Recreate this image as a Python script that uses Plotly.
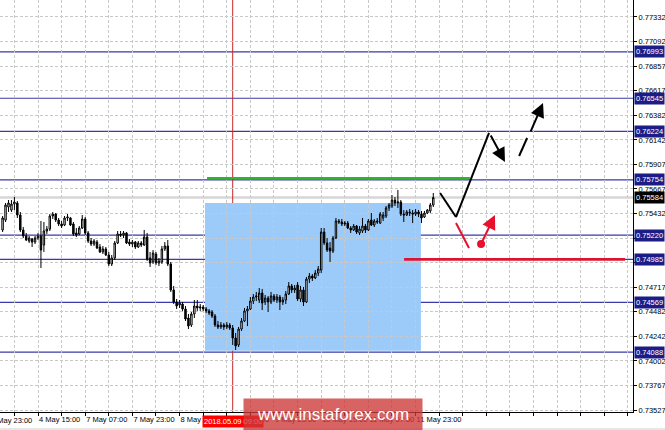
import pandas as pd
import plotly.graph_objects as go

# ---------------- data (AUD/USD, H1) ----------------
open_ = [0.75270, 0.75366, 0.75492, 0.75463, 0.75521, 0.75531, 0.75415, 0.75270, 0.75212, 0.75163,
         0.75182, 0.75153, 0.75192, 0.75212, 0.75124, 0.75260, 0.75279, 0.75405, 0.75424, 0.75366,
         0.75328, 0.75318, 0.75386, 0.75386, 0.75328, 0.75241, 0.75231, 0.75289, 0.75376, 0.75241,
         0.75163, 0.75134, 0.75153, 0.75105, 0.75057, 0.75086, 0.75028, 0.74941, 0.74999, 0.75144,
         0.75231, 0.75221, 0.75241, 0.75153, 0.75134, 0.75153, 0.75105, 0.75144, 0.75124, 0.75202,
         0.74999, 0.74960, 0.75037, 0.74950, 0.74960, 0.75086, 0.75115, 0.74941, 0.74689, 0.74573,
         0.74544, 0.74553, 0.74505, 0.74418, 0.74350, 0.74457, 0.74534, 0.74515, 0.74524, 0.74505,
         0.74486, 0.74476, 0.74437, 0.74350, 0.74331, 0.74350, 0.74331, 0.74350, 0.74321, 0.74224,
         0.74157, 0.74311, 0.74389, 0.74486, 0.74505, 0.74582, 0.74621, 0.74592, 0.74660, 0.74573,
         0.74611, 0.74573, 0.74631, 0.74592, 0.74621, 0.74573, 0.74592, 0.74650, 0.74728, 0.74689,
         0.74737, 0.74602, 0.74689, 0.74573, 0.74795, 0.74824, 0.74805, 0.74853, 0.74882, 0.75250,
         0.75144, 0.75095, 0.75066, 0.75192, 0.75357, 0.75347, 0.75328, 0.75337, 0.75289, 0.75270,
         0.75308, 0.75241, 0.75260, 0.75308, 0.75270, 0.75366, 0.75318, 0.75357, 0.75337, 0.75386,
         0.75405, 0.75483, 0.75502, 0.75560, 0.75531, 0.75541, 0.75424, 0.75415, 0.75444, 0.75434,
         0.75424, 0.75444, 0.75424, 0.75395, 0.75434, 0.75454, 0.75512]
high = [0.75405, 0.75531, 0.75560, 0.75560, 0.75589, 0.75550, 0.75444, 0.75299, 0.75241, 0.75212,
        0.75192, 0.75212, 0.75241, 0.75357, 0.75347, 0.75308, 0.75424, 0.75444, 0.75434, 0.75386,
        0.75357, 0.75405, 0.75424, 0.75395, 0.75347, 0.75289, 0.75308, 0.75415, 0.75395, 0.75260,
        0.75192, 0.75182, 0.75173, 0.75134, 0.75115, 0.75105, 0.75057, 0.75028, 0.75163, 0.75260,
        0.75260, 0.75260, 0.75250, 0.75182, 0.75173, 0.75163, 0.75163, 0.75163, 0.75270, 0.75241,
        0.75057, 0.75076, 0.75057, 0.74999, 0.75115, 0.75153, 0.75173, 0.74960, 0.74728, 0.74602,
        0.74592, 0.74573, 0.74534, 0.74457, 0.74476, 0.74592, 0.74592, 0.74553, 0.74544, 0.74524,
        0.74505, 0.74495, 0.74457, 0.74389, 0.74379, 0.74369, 0.74379, 0.74369, 0.74350, 0.74273,
        0.74331, 0.74418, 0.74515, 0.74534, 0.74621, 0.74650, 0.74670, 0.74708, 0.74699, 0.74641,
        0.74631, 0.74670, 0.74650, 0.74650, 0.74641, 0.74621, 0.74679, 0.74766, 0.74747, 0.74737,
        0.74766, 0.74728, 0.74718, 0.74815, 0.74853, 0.74844, 0.74882, 0.74921, 0.75289, 0.75289,
        0.75192, 0.75153, 0.75212, 0.75386, 0.75376, 0.75376, 0.75357, 0.75357, 0.75308, 0.75328,
        0.75318, 0.75308, 0.75386, 0.75328, 0.75376, 0.75434, 0.75376, 0.75386, 0.75444, 0.75444,
        0.75502, 0.75531, 0.75608, 0.75589, 0.75657, 0.75560, 0.75463, 0.75463, 0.75473, 0.75463,
        0.75473, 0.75463, 0.75454, 0.75454, 0.75473, 0.75531, 0.75628]
low = [0.75250, 0.75347, 0.75444, 0.75444, 0.75463, 0.75386, 0.75250, 0.75192, 0.75163, 0.75144,
       0.75105, 0.75134, 0.75173, 0.74902, 0.75057, 0.75231, 0.75260, 0.75376, 0.75347, 0.75308,
       0.75289, 0.75308, 0.75357, 0.75308, 0.75212, 0.75202, 0.75221, 0.75279, 0.75221, 0.75144,
       0.75115, 0.75115, 0.75086, 0.75047, 0.75037, 0.75018, 0.74921, 0.74921, 0.74979, 0.75134,
       0.75202, 0.75192, 0.75134, 0.75115, 0.75105, 0.75086, 0.75095, 0.75105, 0.75115, 0.74970,
       0.74912, 0.74941, 0.74931, 0.74921, 0.74941, 0.75066, 0.74921, 0.74670, 0.74553, 0.74505,
       0.74515, 0.74486, 0.74389, 0.74311, 0.74331, 0.74418, 0.74486, 0.74486, 0.74486, 0.74466,
       0.74447, 0.74418, 0.74331, 0.74311, 0.74311, 0.74302, 0.74311, 0.74302, 0.74157, 0.74108,
       0.74137, 0.74292, 0.74379, 0.74340, 0.74495, 0.74553, 0.74582, 0.74563, 0.74495, 0.74544,
       0.74476, 0.74553, 0.74573, 0.74563, 0.74495, 0.74544, 0.74553, 0.74641, 0.74660, 0.74660,
       0.74582, 0.74573, 0.74534, 0.74563, 0.74757, 0.74776, 0.74795, 0.74824, 0.74853, 0.75124,
       0.75057, 0.74960, 0.75047, 0.75182, 0.75328, 0.75308, 0.75308, 0.75279, 0.75241, 0.75260,
       0.75231, 0.75221, 0.75241, 0.75241, 0.75260, 0.75308, 0.75299, 0.75328, 0.75328, 0.75357,
       0.75386, 0.75454, 0.75483, 0.75502, 0.75483, 0.75405, 0.75347, 0.75405, 0.75405, 0.75337,
       0.75405, 0.75395, 0.75337, 0.75386, 0.75424, 0.75434, 0.75492]
close = [0.75386, 0.75512, 0.75531, 0.75521, 0.75541, 0.75415, 0.75270, 0.75212, 0.75173, 0.75192,
         0.75153, 0.75192, 0.75212, 0.75076, 0.75260, 0.75279, 0.75405, 0.75424, 0.75366, 0.75328,
         0.75308, 0.75386, 0.75395, 0.75318, 0.75231, 0.75221, 0.75289, 0.75376, 0.75241, 0.75163,
         0.75134, 0.75163, 0.75095, 0.75057, 0.75086, 0.75028, 0.74941, 0.74999, 0.75144, 0.75231,
         0.75221, 0.75241, 0.75144, 0.75134, 0.75153, 0.75105, 0.75144, 0.75124, 0.75202, 0.74989,
         0.74950, 0.75047, 0.74950, 0.74970, 0.75086, 0.75115, 0.74941, 0.74689, 0.74573, 0.74534,
         0.74563, 0.74505, 0.74408, 0.74340, 0.74457, 0.74534, 0.74515, 0.74524, 0.74505, 0.74486,
         0.74466, 0.74437, 0.74350, 0.74331, 0.74350, 0.74331, 0.74350, 0.74321, 0.74224, 0.74147,
         0.74311, 0.74389, 0.74486, 0.74505, 0.74582, 0.74621, 0.74631, 0.74660, 0.74563, 0.74611,
         0.74573, 0.74631, 0.74592, 0.74621, 0.74573, 0.74592, 0.74650, 0.74728, 0.74689, 0.74708,
         0.74602, 0.74689, 0.74573, 0.74795, 0.74824, 0.74805, 0.74853, 0.74892, 0.75250, 0.75144,
         0.75076, 0.75066, 0.75192, 0.75357, 0.75347, 0.75328, 0.75337, 0.75289, 0.75270, 0.75308,
         0.75250, 0.75279, 0.75308, 0.75270, 0.75357, 0.75318, 0.75357, 0.75347, 0.75424, 0.75415,
         0.75483, 0.75512, 0.75560, 0.75531, 0.75541, 0.75424, 0.75415, 0.75444, 0.75434, 0.75424,
         0.75444, 0.75424, 0.75386, 0.75434, 0.75463, 0.75512, 0.75584]

levels = [0.76993, 0.76545, 0.76224, 0.75754, 0.75220, 0.74985, 0.74569, 0.74088]
y_tick_values = [0.73527, 0.73767, 0.74002, 0.74242, 0.74482, 0.74717, 0.74957, 0.75192, 0.75432,
                 0.75667, 0.75907, 0.76142, 0.76382, 0.76617, 0.76857, 0.77092, 0.77332]
x_tick_labels = ["3 May 23:00", "4 May 15:00", "7 May 07:00", "7 May 23:00", "8 May 15:00",
                 "9 May 07:00", "9 May 23:00", "10 May 15:00", "11 May 07:00", "11 May 23:00"]
current_price = 0.75584
marked_time = "2018.05.09 09:00"
first_bar_time = "2018-05-04 03:00"
pattern_top = 0.75773
support_price = 0.74985
box_low, box_high = 0.74100, 0.75530

# ---------------- time axis (H1 bars, weekends skipped) ----------------
n = len(close)
axis_times = [t for t in pd.date_range("2018-05-03 20:00", periods=500, freq="h") if t.weekday() < 5]
offset = axis_times.index(pd.Timestamp(first_bar_time))


def bar_pos(ts):
    return axis_times.index(pd.Timestamp(ts)) - offset


bar_x = list(range(n))
bar_text = [t.strftime("%Y.%m.%d %H:%M") for t in axis_times[offset:offset + n]]
label_pos = {bar_pos(pd.to_datetime(s.replace(" May", " May 2018"))): s for s in x_tick_labels}
first_label = min(label_pos)
x_range = [-0.88, 213.7]
tickvals = list(range(first_label + 8, int(x_range[1]) + 1, 8))
ticktext = [label_pos.get(v, "") for v in tickvals]
y_range = [0.73508, 0.77496]
marked_pos = bar_pos(pd.to_datetime(marked_time.replace(".", "-")))


def y_label(v):
    # price labels hidden behind a level tag are left blank
    return "" if any(abs(v - lv) < 0.00035 for lv in levels) else f"{v:.5f}"


FONT = "Liberation Sans, Arial, sans-serif"
NAVY = "#1c1c86"
LEVEL = "#3a3aa8"

fig = go.Figure()
fig.add_trace(go.Candlestick(
    x=bar_x, open=open_, high=high, low=low, close=close, text=bar_text,
    increasing=dict(line=dict(color="black", width=1), fillcolor="white"),
    decreasing=dict(line=dict(color="black", width=1), fillcolor="black"),
    whiskerwidth=0, showlegend=False, hoverinfo="text+y",
))

shapes = []
# analysis rectangle
shapes.append(dict(type="rect", xref="x", yref="y", x0=68.6, x1=141.8, y0=box_low, y1=box_high,
                   fillcolor="#9ccbfa", line=dict(width=0), layer="below"))
# current price line
shapes.append(dict(type="line", xref="paper", yref="y", x0=0, x1=1, y0=current_price, y1=current_price,
                   line=dict(color="#d6d6d6", width=2.5), layer="below"))
# horizontal levels
for lv in levels:
    shapes.append(dict(type="line", xref="paper", yref="y", x0=0, x1=1, y0=lv, y1=lv,
                       line=dict(color=LEVEL, width=1.2), layer="below"))
# vertical marker line
shapes.append(dict(type="line", xref="x", yref="paper", x0=marked_pos, x1=marked_pos, y0=0, y1=1,
                   line=dict(color="#c82828", width=1), layer="below"))
# green pattern top line
shapes.append(dict(type="line", xref="x", yref="y", x0=69.3, x1=158.4, y0=pattern_top, y1=pattern_top,
                   line=dict(color="#2db52d", width=2), layer="above"))
# red support line
shapes.append(dict(type="line", xref="x", yref="y", x0=136.1, x1=211.0, y0=support_price, y1=support_price,
                   line=dict(color="#dc1432", width=2.6), layer="above"))
# black forecast path
path_black = [(148.3, 0.75628), (153.7, 0.75395), (164.9, 0.76209)]
for (xa, ya), (xb, yb) in zip(path_black[:-1], path_black[1:]):
    shapes.append(dict(type="line", xref="x", yref="y", x0=xa, y0=ya, x1=xb, y1=yb,
                       line=dict(color="black", width=2), layer="above"))
# first dash of the dashed arrow
shapes.append(dict(type="line", xref="x", yref="y", x0=175.1, y0=0.75986, x1=177.8, y1=0.76160,
                   line=dict(color="black", width=2), layer="above"))
# red alternative path
shapes.append(dict(type="line", xref="x", yref="y", x0=153.7, y0=0.75337, x1=158.1, y1=0.75095,
                   line=dict(color="#e8112d", width=2), layer="above"))
# bottom window strip
shapes.append(dict(type="rect", xref="paper", yref="paper", x0=0, x1=665 / 633, y0=-18 / 412, y1=-16 / 412,
                   fillcolor="#e6e6e6", line=dict(width=0), layer="above"))

fig.add_trace(go.Scatter(x=[162.2], y=[0.75134], mode="markers", showlegend=False, hoverinfo="skip",
                         marker=dict(color="#e8112d", size=8)))

annotations = []


def arrow(x_tail, y_tail, x_head, y_head, color):
    return dict(x=x_head, y=y_head, ax=x_tail, ay=y_tail, xref="x", yref="y", axref="x", ayref="y",
                text="", showarrow=True, arrowhead=2, arrowsize=1.4, arrowwidth=2, arrowcolor=color,
                standoff=0, startstandoff=0)


annotations.append(arrow(165.2, 0.76199, 170.3, 0.75928, "black"))
annotations.append(arrow(178.8, 0.76209, 183.2, 0.76499, "black"))
annotations.append(arrow(162.2, 0.75134, 166.9, 0.75415, "#e8112d"))

# price tags on the axis
for lv in levels:
    annotations.append(dict(xref="paper", yref="y", x=1, y=lv, xanchor="left", yanchor="middle", xshift=1,
                            text=f"{lv:.5f}", showarrow=False, bgcolor=NAVY, borderpad=1,
                            font=dict(family=FONT, size=7.5, color="white")))
annotations.append(dict(xref="paper", yref="y", x=1, y=current_price, xanchor="left", yanchor="middle",
                        xshift=1, text=f"{current_price:.5f}", showarrow=False, bgcolor="black", borderpad=1,
                        font=dict(family=FONT, size=7.5, color="white")))
# partially clipped first time label
annotations.append(dict(xref="paper", yref="paper",
                        x=(first_label - x_range[0]) / (x_range[1] - x_range[0]), y=-8 / 412,
                        xanchor="left", yanchor="middle", xshift=-2, text=label_pos[first_label],
                        showarrow=False, font=dict(family=FONT, size=7.5, color="black")))
# marked time tag
annotations.append(dict(xref="x", yref="paper", x=marked_pos, y=-9 / 412, xanchor="center", yanchor="middle",
                        text=marked_time, showarrow=False, bgcolor="#ff0000", borderpad=1,
                        font=dict(family=FONT, size=7.5, color="white")))
# watermark
annotations.append(dict(xref="paper", yref="paper", x=333 / 633, y=-2.5 / 412, xanchor="center",
                        yanchor="middle", width=178, height=31, text="www.instaforex.com", showarrow=False,
                        bgcolor="rgba(205,55,55,0.78)", borderpad=0,
                        font=dict(family=FONT, size=17, color="white")))

fig.update_layout(
    width=665, height=430,
    margin=dict(l=0, r=32, t=0, b=18, pad=0, autoexpand=False),
    paper_bgcolor="white", plot_bgcolor="white",
    template="none",
    font=dict(family=FONT, size=7.5, color="black"),
    showlegend=False,
    shapes=shapes, annotations=annotations,
    xaxis=dict(range=x_range, rangeslider=dict(visible=False), tickmode="array", tickvals=tickvals,
               ticktext=ticktext, ticklabelposition="outside right", tickangle=0, showgrid=True,
               gridcolor="#c8c8c8", griddash="3px,2px", gridwidth=1, zeroline=False, showline=True,
               linecolor="black", linewidth=1, ticks="outside", ticklen=3, tickcolor="black",
               automargin=False, tickfont=dict(family=FONT, size=7.5, color="black")),
    yaxis=dict(range=y_range, side="right", tickmode="array", tickvals=y_tick_values,
               ticktext=[y_label(v) for v in y_tick_values], showgrid=True, gridcolor="#c8c8c8",
               griddash="3px,2px", gridwidth=1, zeroline=False, showline=True, linecolor="black",
               linewidth=1, ticks="outside", ticklen=3, tickcolor="black", automargin=False,
               tickfont=dict(family=FONT, size=7.5, color="black")),
)

fig.write_html("out.html", config={"displayModeBar": False},
               post_script="document.body.style.margin='0';document.body.style.overflow='hidden';")
